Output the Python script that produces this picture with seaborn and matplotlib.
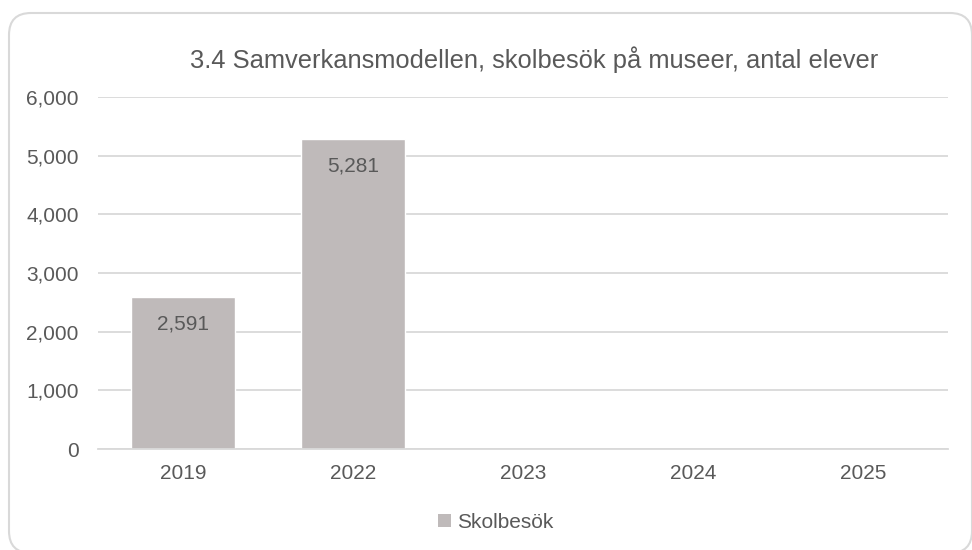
import matplotlib
matplotlib.use("Agg")
import matplotlib.pyplot as plt
import numpy as np
import pandas as pd
import seaborn as sns
from matplotlib.patches import FancyBboxPatch, Patch
from matplotlib.transforms import IdentityTransform

years = ["2019", "2022", "2023", "2024", "2025"]
visits = [2591, 5281, np.nan, np.nan, np.nan]
series_name = "Skolbesök"
title = "3.4 Samverkansmodellen, skolbesök på museer, antal elever"

BAR = "#BFBABA"
TEXT = "#595959"
GRID = "#D9D9D9"

sns.set_theme(style="white")
plt.rcParams["font.family"] = ["Liberation Sans", "DejaVu Sans"]

df = pd.DataFrame({"year": years, "visits": visits})

fig = plt.figure(figsize=(9.72, 5.5), dpi=100)
ax = fig.add_axes([0.1008, 0.1836, 0.8745, 0.64])

sns.barplot(data=df, x="year", y="visits", order=years, color=BAR,
            width=0.61, saturation=1, ax=ax)

ax.set_ylim(0, 6000)
ax.set_yticks(np.arange(0, 6001, 1000))
ax.yaxis.set_major_formatter(matplotlib.ticker.FuncFormatter(lambda v, _: f"{v:,.0f}"))
ax.grid(axis="y", color=GRID, linewidth=1.3)
ax.set_axisbelow(True)
for side in ["top", "right", "left"]:
    ax.spines[side].set_visible(False)
ax.spines["bottom"].set_color(GRID)
ax.spines["bottom"].set_linewidth(1.3)
ax.tick_params(axis="y", length=0, pad=14, labelsize=15, labelcolor=TEXT)
ax.tick_params(axis="x", length=0, pad=11, labelsize=15, labelcolor=TEXT)
ax.set_xlabel("")
ax.set_ylabel("")

for cont in ax.containers:
    labels = [f"{v:,.0f}" if not np.isnan(v) else "" for v in cont.datavalues]
    ax.bar_label(cont, labels=labels, padding=-26, fontsize=15, color=TEXT)

fig.text(0.55, 1 - 60 / 550, title, ha="center", va="center", fontsize=18.4, color=TEXT)

fig.legend(handles=[Patch(facecolor=BAR, edgecolor="none", label=series_name)],
           loc="center", bbox_to_anchor=(0.51, 1 - 522 / 550), frameon=False,
           fontsize=15, handlelength=0.6, handleheight=0.6, handletextpad=0.3,
           labelcolor=TEXT)

# rounded outer frame, in pixels (origin bottom-left)
frame = FancyBboxPatch((9, -3), 963, 540,
                       boxstyle="round,pad=0,rounding_size=22",
                       transform=IdentityTransform(), facecolor="none",
                       edgecolor=GRID, linewidth=1.5)
fig.patches.append(frame)

fig.savefig("out.png", dpi=100)
